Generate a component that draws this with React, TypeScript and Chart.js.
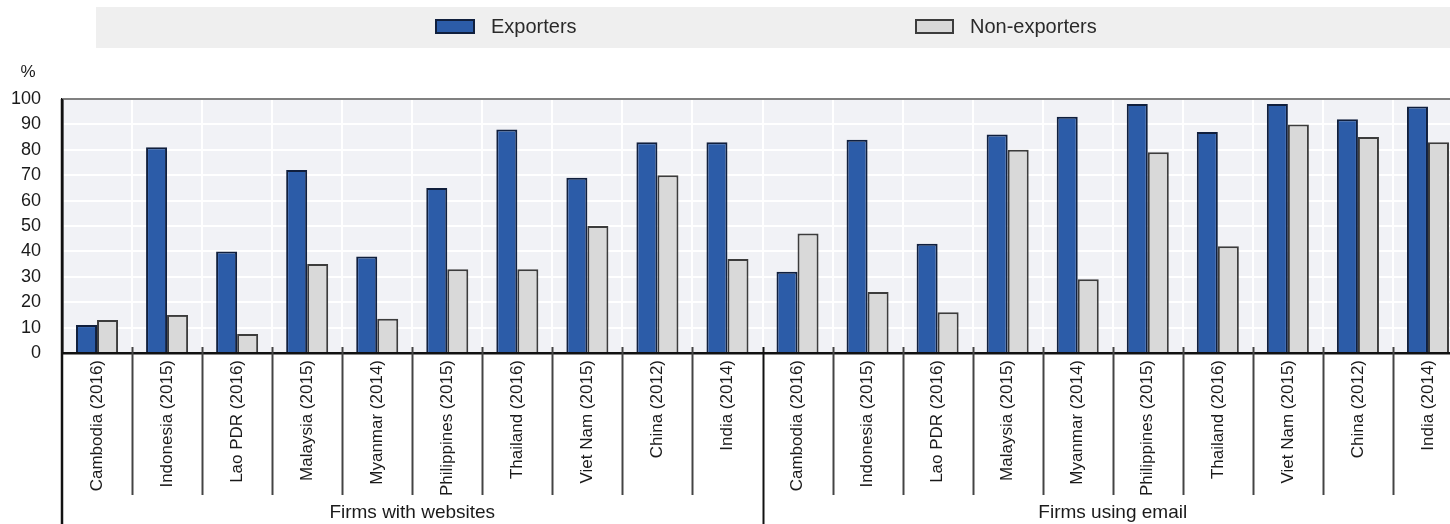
import React, { useEffect, useRef } from "react";
import { Chart, registerables } from "chart.js";

Chart.register(...registerables);

const countries = [
  "Cambodia (2016)",
  "Indonesia (2015)",
  "Lao PDR (2016)",
  "Malaysia (2015)",
  "Myanmar (2014)",
  "Philippines (2015)",
  "Thailand (2016)",
  "Viet Nam (2015)",
  "China (2012)",
  "India (2014)",
];
const groups = ["Firms with websites", "Firms using email"];
const seriesNames = ["Exporters", "Non-exporters"];

const websitesExporters = [11, 81, 40, 72, 38, 65, 88, 69, 83, 83];
const websitesNonExporters = [13, 15, 7.5, 35, 13.5, 33, 33, 50, 70, 37];
const emailExporters = [32, 84, 43, 86, 93, 98, 87, 98, 92, 97];
const emailNonExporters = [47, 24, 16, 80, 29, 79, 42, 90, 85, 83];

const yTicks = [0, 10, 20, 30, 40, 50, 60, 70, 80, 90, 100];

const FONT = '"Liberation Sans", Arial, sans-serif';
const BLUE = "#2c5ca8";
const BLUE_BORDER = "#101f3d";
const GREY = "#d9d9d9";
const GREY_BORDER = "#3c3c3c";
const TEXT = "#1a1a1a";

const CANVAS_W = 1470;
const CANVAS_H = 524;

const decorPlugin = {
  id: "decor",
  beforeDraw(chart: any) {
    const { ctx, chartArea } = chart;
    ctx.save();
    ctx.fillStyle = "#f1f2f6";
    ctx.fillRect(chartArea.left, chartArea.top, chartArea.right - chartArea.left, chartArea.bottom - chartArea.top);
    // legend band
    ctx.fillStyle = "#efefef";
    ctx.fillRect(96, 7, chart.width - 96, 41);
    const items = [
      { x: 436, w: 38, fill: BLUE, stroke: BLUE_BORDER, tx: 491, label: seriesNames[0] },
      { x: 916, w: 37, fill: GREY, stroke: GREY_BORDER, tx: 970, label: seriesNames[1] },
    ];
    ctx.font = `20px ${FONT}`;
    ctx.textBaseline = "middle";
    ctx.textAlign = "left";
    for (const it of items) {
      ctx.fillStyle = it.fill;
      ctx.fillRect(it.x, 20, it.w, 13);
      ctx.strokeStyle = it.stroke;
      ctx.lineWidth = 2;
      ctx.strokeRect(it.x, 20, it.w, 13);
      ctx.fillStyle = "#2a2a2a";
      ctx.fillText(it.label, it.tx, 27);
    }
    // % unit
    ctx.font = `17px ${FONT}`;
    ctx.textAlign = "center";
    ctx.fillStyle = TEXT;
    ctx.fillText("%", 28, 72);
    ctx.restore();
  },
  afterDraw(chart: any) {
    const { ctx, chartArea } = chart;
    const xs = chart.scales.x;
    const n = xs.ticks.length;
    const step = (chartArea.right - chartArea.left) / n;
    ctx.save();
    // top border
    ctx.strokeStyle = "#808080";
    ctx.lineWidth = 2;
    ctx.beginPath();
    ctx.moveTo(chartArea.left, chartArea.top);
    ctx.lineTo(chart.width, chartArea.top);
    ctx.stroke();
    // left axis extension
    ctx.strokeStyle = "#111";
    ctx.lineWidth = 2.5;
    ctx.beginPath();
    ctx.moveTo(chartArea.left, chartArea.top);
    ctx.lineTo(chartArea.left, chart.height);
    ctx.stroke();
    // separators
    for (let i = 1; i < n; i++) {
      const x = Math.round(chartArea.left + step * i) + 0.5;
      const isGroup = i % countries.length === 0;
      ctx.strokeStyle = isGroup ? "#111" : "#444";
      ctx.lineWidth = 2;
      ctx.beginPath();
      ctx.moveTo(x, chartArea.bottom - 6);
      ctx.lineTo(x, isGroup ? chart.height : 495);
      ctx.stroke();
    }
    // group labels
    ctx.font = `19px ${FONT}`;
    ctx.fillStyle = TEXT;
    ctx.textAlign = "center";
    ctx.textBaseline = "alphabetic";
    groups.forEach((g, gi) => {
      const cx = chartArea.left + step * countries.length * (gi + 0.5);
      ctx.fillText(g, cx, 518);
    });
    ctx.restore();
  },
};

export default function App() {
  const ref = useRef<HTMLCanvasElement | null>(null);

  useEffect(() => {
    if (!ref.current) return;
    const labels = [...countries, ...countries];
    const exporters = [...websitesExporters, ...emailExporters];
    const nonExporters = [...websitesNonExporters, ...emailNonExporters];
    const chart = new Chart(ref.current, {
      type: "bar",
      data: {
        labels,
        datasets: [
          {
            label: seriesNames[0],
            data: exporters,
            backgroundColor: BLUE,
            borderColor: BLUE_BORDER,
            borderWidth: 2,
            categoryPercentage: 0.6,
            barPercentage: 1.0,
          },
          {
            label: seriesNames[1],
            data: nonExporters,
            backgroundColor: GREY,
            borderColor: GREY_BORDER,
            borderWidth: 2,
            categoryPercentage: 0.6,
            barPercentage: 1.0,
          },
        ],
      },
      options: {
        responsive: false,
        devicePixelRatio: 1,
        animation: false,
        layout: { padding: { top: 99, left: 0, right: 7, bottom: 0 } },
        plugins: {
          legend: { display: false },
          tooltip: { enabled: false },
        },
        scales: {
          x: {
            offset: true,
            grid: {
              color: "#ffffff",
              lineWidth: 2,
              drawTicks: false,
              offset: true,
            },
            border: { color: "#111", width: 2.5 },
            ticks: {
              autoSkip: false,
              minRotation: 90,
              maxRotation: 90,
              padding: 7,
              color: TEXT,
              font: { family: FONT, size: 17 },
            },
            afterFit(scale: any) {
              scale.height = CANVAS_H - 353;
            },
          },
          y: {
            min: 0,
            max: 100,
            afterBuildTicks(scale: any) {
              scale.ticks = yTicks.map((v) => ({ value: v }));
            },
            grid: {
              color: "#ffffff",
              lineWidth: 2,
              drawTicks: false,
            },
            border: { color: "#111", width: 2.5 },
            ticks: {
              padding: 21,
              color: TEXT,
              font: { family: FONT, size: 18 },
            },
            afterFit(scale: any) {
              scale.width = 62;
            },
          },
        },
      },
      plugins: [decorPlugin],
    });
    return () => chart.destroy();
  }, []);

  return (
    <div
      style={{
        position: "fixed",
        left: 0,
        top: 0,
        width: 1450,
        height: CANVAS_H,
        overflow: "hidden",
        background: "#fff",
      }}
    >
      <canvas ref={ref} width={CANVAS_W} height={CANVAS_H} style={{ display: "block" }} />
    </div>
  );
}
